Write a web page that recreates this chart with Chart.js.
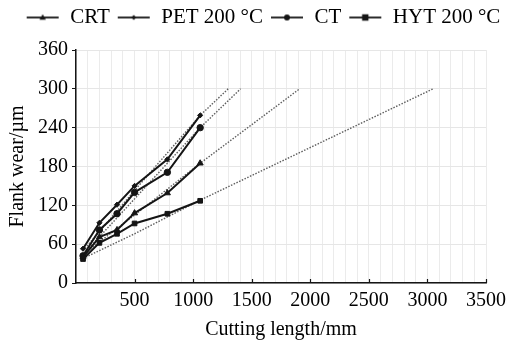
<!DOCTYPE html>
<html>
<head>
<meta charset="utf-8">
<script src="https://cdn.jsdelivr.net/npm/chart.js@4"></script>
<style>
  html, body { margin: 0; padding: 0; background: #fff; }
  #wrap { width: 512px; height: 342px; }
</style>
</head>
<body>
<div id="wrap"><canvas id="chart"></canvas></div>
<script>
// cutting length (mm) at each measurement
const cutLength = [60, 200, 350, 500, 780, 1060];

// flank wear (µm) per tool
const crtWear = [40, 71, 82, 108, 139, 185];
const petWear = [53, 93, 121, 150, 191, 259];
const ctWear  = [42, 82, 107, 140, 171, 240];
const hytWear = [37, 62, 76, 92, 107, 127];

// dotted trend lines
const petTrendX = [60, 500, 1060, 1299];
const petTrendY = [50, 143, 259, 300];
const ctTrendX  = [60, 500, 1060, 1405];
const ctTrendY  = [44, 130, 240, 300];
const crtTrendX = [60, 500, 1060, 1909];
const crtTrendY = [44, 105, 185, 300];
const hytTrendX = [60, 500, 1060, 3048];
const hytTrendY = [38, 76, 128, 300];

const xTicks = [500, 1000, 1500, 2000, 2500, 3000, 3500];
const yTicks = [0, 60, 120, 180, 240, 300, 360];

const FONT = "'Liberation Serif', 'Times New Roman', serif";
const INK = "#151515";

const pts = (xs, ys) => xs.map((x, i) => ({ x: x, y: ys[i] }));

function wearSet(label, ys, style, radius) {
  return {
    label: label,
    data: pts(cutLength, ys),
    borderColor: INK,
    backgroundColor: INK,
    borderWidth: 2,
    pointStyle: style,
    pointRadius: radius,
    pointBorderWidth: 1,
    pointBackgroundColor: INK,
    tension: 0,
    order: 1,
  };
}

function trendSet(xs, ys) {
  return {
    label: "_trend",
    data: pts(xs, ys),
    borderColor: "#5e5e5e",
    borderWidth: 1.4,
    borderDash: [1.5, 1.5],
    pointRadius: 0,
    tension: 0,
    order: 2,
  };
}

// little line+marker swatch for the legend
function swatch(style, r) {
  const c = document.createElement("canvas");
  c.width = 34; c.height = 12;
  const g = c.getContext("2d");
  const m = 17;
  g.strokeStyle = INK; g.fillStyle = INK; g.lineWidth = 1.8;
  g.beginPath(); g.moveTo(1, 6); g.lineTo(33, 6); g.stroke();
  g.beginPath();
  if (style === "triangle") {
    g.moveTo(m, 6 - r); g.lineTo(m + r, 6 + r * 0.7); g.lineTo(m - r, 6 + r * 0.7);
  } else if (style === "rectRot") {
    g.moveTo(m, 6 - r); g.lineTo(m + r, 6); g.lineTo(m, 6 + r); g.lineTo(m - r, 6);
  } else if (style === "circle") {
    g.arc(m, 6, r, 0, Math.PI * 2);
  } else {
    g.rect(m - r, 6 - r, 2 * r, 2 * r);
  }
  g.closePath(); g.fill();
  return c;
}

const legendSwatches = [swatch("triangle", 3.2), swatch("rectRot", 2.6), swatch("circle", 3), swatch("rect", 3.2)];

// inward tick marks on the x axis
const innerTicks = {
  id: "innerTicks",
  afterDatasetsDraw(chart) {
    const { ctx, scales: { x }, chartArea } = chart;
    ctx.save();
    ctx.strokeStyle = INK;
    ctx.lineWidth = 1.2;
    xTicks.forEach((v) => {
      const px = Math.round(x.getPixelForValue(v)) + 0.5;
      ctx.beginPath();
      ctx.moveTo(px, chartArea.bottom);
      ctx.lineTo(px, chartArea.bottom - 4);
      ctx.stroke();
    });
    ctx.restore();
  },
};

// give the legend a fixed band so the plot starts lower, nudge it right
const legendBand = {
  id: "legendBand",
  beforeInit(chart) {
    const fit = chart.legend.fit;
    chart.legend.fit = function () {
      fit.bind(chart.legend)();
      this.height = 50;
    };
  },
  afterLayout(chart) {
    chart.legend.left += 9;
    chart.legend.right += 9;
  },
};

new Chart(document.getElementById("chart"), {
  type: "line",
  data: {
    datasets: [
      wearSet("CRT", crtWear, "triangle", 3.5),
      wearSet("PET 200 \u00b0C", petWear, "rectRot", 2.6),
      wearSet("CT", ctWear, "circle", 3.2),
      wearSet("HYT 200 \u00b0C", hytWear, "rect", 3.3),
      trendSet(petTrendX, petTrendY),
      trendSet(ctTrendX, ctTrendY),
      trendSet(crtTrendX, crtTrendY),
      trendSet(hytTrendX, hytTrendY),
    ],
  },
  options: {
    responsive: true,
    maintainAspectRatio: false,
    animation: false,
    layout: { padding: { top: 0, right: 4, left: 0, bottom: 0 } },
    plugins: {
      legend: {
        display: true,
        position: "top",
        labels: {
          color: "#000",
          font: { family: FONT, size: 21 },
          usePointStyle: true,
          pointStyleWidth: 34,
          padding: 7,
          filter: (item) => item.text !== "_trend",
          generateLabels: (chart) =>
            Chart.defaults.plugins.legend.labels.generateLabels(chart).map((it) => {
              if (it.datasetIndex < 4) it.pointStyle = legendSwatches[it.datasetIndex];
              return it;
            }),
        },
      },
      tooltip: { enabled: false },
    },
    scales: {
      x: {
        type: "linear",
        min: 0,
        max: 3500,
        afterFit: (s) => { s.height = 59; },
        ticks: {
          stepSize: 100,
          autoSkip: false,
          maxRotation: 0,
          padding: 6,
          color: "#000",
          font: { family: FONT, size: 20 },
          callback: (v) => (xTicks.includes(v) ? String(v) : ""),
        },
        grid: { color: "#ebebeb", lineWidth: 1, drawTicks: false },
        border: { color: INK, width: 1.5 },
        title: {
          display: true,
          text: "Cutting length/mm",
          color: "#000",
          font: { family: FONT, size: 20 },
          padding: { top: 0, bottom: 0 },
        },
      },
      y: {
        min: 0,
        max: 360,
        afterFit: (s) => { s.width = 76; },
        afterBuildTicks: (s) => { s.ticks = yTicks.map((v) => ({ value: v })); },
        ticks: {
          color: "#000",
          padding: 4,
          font: { family: FONT, size: 20 },
        },
        grid: { color: "#e6e6e6", lineWidth: 1, tickLength: 4, tickColor: INK },
        border: { color: INK, width: 1.5 },
        title: {
          display: true,
          text: "Flank wear/\u00b5m",
          color: "#000",
          font: { family: FONT, size: 20 },
          padding: { top: 6, bottom: 0 },
        },
      },
    },
  },
  plugins: [innerTicks, legendBand],
});
</script>
</body>
</html>
